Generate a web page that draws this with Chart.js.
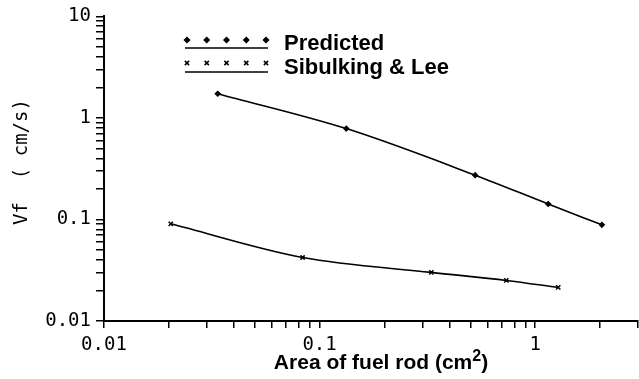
<!DOCTYPE html>
<html><head><meta charset="utf-8">
<script src="https://cdn.jsdelivr.net/npm/chart.js@4/dist/chart.umd.min.js"></script>
<style>html,body{margin:0;padding:0;background:#fff}#wrap{width:639px;height:379px;position:relative}</style>
</head><body><div id="wrap"><canvas id="c" width="639" height="379"></canvas></div>
<script>
const predictedX = [0.0337, 0.133, 0.527, 1.15, 2.04];
const predictedY = [1.73, 0.785, 0.273, 0.142, 0.0885];
const sibulkingX = [0.0204, 0.0834, 0.330, 0.735, 1.28];
const sibulkingY = [0.0906, 0.0422, 0.0301, 0.0251, 0.0214];
const xTickLabels = ['0.01', '0.1', '1'];
const yTickLabels = ['0.01', '0.1', '1', '10'];
const seriesNames = ['Predicted', 'Sibulking & Lee'];
const xTitle = 'Area of fuel rod (cm';
const xTitleSup = '2';
const yTitle = 'Vf  ( cm/s)';

const toPts = (xs, ys) => xs.map((x, i) => ({x: x, y: ys[i]}));
function logTicks(min, max) {
  const out = [];
  for (let e = Math.floor(Math.log10(min)); e <= Math.ceil(Math.log10(max)); e++) {
    for (let m = 1; m <= 9; m++) {
      const v = m * Math.pow(10, e);
      if (v >= min * 0.999 && v <= max * 1.001) out.push({value: v, major: m === 1});
    }
  }
  return out;
}
function labelFor(list) {
  return v => { const s = list.find(l => Math.abs(Number(l) - v) / v < 1e-6); return s || ''; };
}
const MONO = "'DejaVu Sans Mono', monospace";
const SANS = "'Liberation Sans', Arial, sans-serif";

const extras = {
  id: 'extras',
  afterDraw(chart) {
    const ctx = chart.ctx;
    ctx.save();
    // legend
    const styles = [chart.data.datasets[0], chart.data.datasets[1]];
    const rows = [{my: 40, ly: 48, ty: 50}, {my: 63, ly: 72, ty: 74}];
    rows.forEach((r, i) => {
      const ds = styles[i];
      ctx.strokeStyle = '#000'; ctx.fillStyle = '#000'; ctx.lineWidth = 1.5;
      for (let k = 0; k < 5; k++) {
        const px = 187 + k * 19.75;
        Chart.helpers.drawPoint(ctx, {pointStyle: ds.pointStyle, radius: ds.pointRadius, borderWidth: 1.5, rotation: 0}, px, r.my);
        ctx.fillStyle = '#000'; ctx.strokeStyle = '#000';
      }
      ctx.beginPath(); ctx.moveTo(185, r.ly); ctx.lineTo(268, r.ly); ctx.lineWidth = 1.5; ctx.stroke();
      ctx.font = 'bold 22px ' + SANS; ctx.textAlign = 'left'; ctx.textBaseline = 'alphabetic';
      ctx.fillText(seriesNames[i], 284, r.ty);
    });
    // x title
    ctx.font = 'bold 21px ' + SANS;
    const w1 = ctx.measureText(xTitle).width;
    ctx.font = 'bold 16px ' + SANS;
    const w2 = ctx.measureText(xTitleSup).width;
    ctx.font = 'bold 21px ' + SANS;
    const w3 = ctx.measureText(')').width;
    const tot = w1 + w2 + w3;
    let sx = 381 - tot / 2;
    const by = 369;
    ctx.textAlign = 'left';
    ctx.fillText(xTitle, sx, by);
    ctx.font = 'bold 16px ' + SANS;
    ctx.fillText(xTitleSup, sx + w1, by - 8);
    ctx.font = 'bold 21px ' + SANS;
    ctx.fillText(')', sx + w1 + w2, by);
    // y title
    ctx.translate(22, 162);
    ctx.rotate(-Math.PI / 2);
    ctx.font = '19px ' + MONO; ctx.textAlign = 'center'; ctx.textBaseline = 'middle';
    ctx.fillText(yTitle, 0, 0);
    ctx.restore();
  }
};

new Chart(document.getElementById('c'), {
  type: 'scatter',
  data: {
    datasets: [
      {label: seriesNames[0], data: toPts(predictedX, predictedY), showLine: true, borderColor: '#000', backgroundColor: '#000',
       borderWidth: 1.6, pointStyle: 'rectRot', pointRadius: 2.5, pointBorderWidth: 1.2, cubicInterpolationMode: 'monotone'},
      {label: seriesNames[1], data: toPts(sibulkingX, sibulkingY), showLine: true, borderColor: '#000', backgroundColor: '#000',
       borderWidth: 1.6, pointStyle: 'crossRot', pointRadius: 3, pointBorderWidth: 1.5, cubicInterpolationMode: 'monotone'}
    ]
  },
  options: {
    responsive: false, animation: false, devicePixelRatio: 1,
    layout: {autoPadding: false, padding: {left: 0, top: 14, right: 1, bottom: 0}},
    plugins: {legend: {display: false}, tooltip: {enabled: false}},
    scales: {
      x: {
        type: 'logarithmic', min: 0.01, max: 3,
        afterBuildTicks: s => { s.ticks = logTicks(0.01, 3); },
        afterFit: s => { s.height = 58; s.paddingRight = 0; s.paddingLeft = 0; },
        ticks: {callback: labelFor(xTickLabels), autoSkip: false, maxRotation: 0, color: '#000', padding: 6, font: {family: MONO, size: 19}},
        grid: {drawOnChartArea: false, drawTicks: true, tickLength: 7, color: '#000', lineWidth: 1.5},
        border: {display: true, color: '#000', width: 2}
      },
      y: {
        type: 'logarithmic', min: 0.01, max: 10,
        afterBuildTicks: s => { s.ticks = logTicks(0.01, 10); },
        afterFit: s => { s.width = 104; },
        ticks: {callback: labelFor(yTickLabels), autoSkip: false, color: '#000', padding: 5, font: {family: MONO, size: 19}},
        grid: {drawOnChartArea: false, drawTicks: true, tickLength: 8, color: '#000', lineWidth: 1.5},
        border: {display: true, color: '#000', width: 2}
      }
    }
  },
  plugins: [extras]
});
</script>
</body></html>
